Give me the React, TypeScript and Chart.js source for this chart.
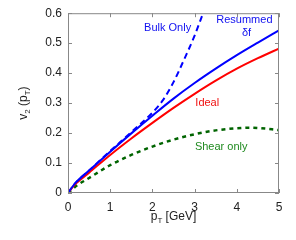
import React, { useEffect, useRef } from "react";
import { Chart, registerables } from "chart.js";

Chart.register(...registerables);

const resummedX = [0, 0.1, 0.2, 0.5, 1, 1.5, 2, 2.5, 3, 3.5, 4, 4.5, 5];
const resummedY = [0, 0.02, 0.037, 0.075, 0.138, 0.199, 0.258, 0.315, 0.367, 0.415, 0.46, 0.502, 0.543];

const idealX = [0, 0.1, 0.2, 0.5, 1, 1.5, 2, 2.5, 3, 3.5, 4, 4.5, 5];
const idealY = [0, 0.018, 0.033, 0.068, 0.127, 0.182, 0.234, 0.284, 0.331, 0.375, 0.415, 0.45, 0.482];

const bulkX = [0, 0.1, 0.2, 0.5, 1, 1.5, 2, 2.25, 2.5, 2.75, 3, 3.2];
const bulkY = [0, 0.02, 0.037, 0.075, 0.14, 0.203, 0.268, 0.31, 0.37, 0.445, 0.525, 0.6];

const shearX = [0, 0.1, 0.2, 0.5, 1, 1.5, 2, 2.5, 3, 3.5, 4, 4.3, 4.5, 5];
const shearY = [0, 0.012, 0.024, 0.05, 0.093, 0.127, 0.155, 0.178, 0.196, 0.209, 0.216, 0.218, 0.217, 0.21];

const xTicks = [0, 1, 2, 3, 4, 5];
const yTicks = [0, 0.1, 0.2, 0.3, 0.4, 0.5, 0.6];

const labels = [
  { text: "Bulk Only", x: 2.36, y: 0.55, color: "#1010f0" },
  { text: "Resummed", x: 4.18, y: 0.577, color: "#1010f0" },
  { text: "δf", x: 4.23, y: 0.535, color: "#1010f0" },
  { text: "Ideal", x: 3.3, y: 0.3, color: "#f01010" },
  { text: "Shear only", x: 3.63, y: 0.155, color: "#1f8a1f" },
];

const FONT = "'Liberation Sans', Arial, Helvetica, sans-serif";

const pts = (xs: number[], ys: number[]) => xs.map((x, i) => ({ x, y: ys[i] }));

const decorPlugin = {
  id: "decor",
  afterDraw(chart: any) {
    const ctx = chart.ctx as CanvasRenderingContext2D;
    const { left, right, top, bottom } = chart.chartArea;
    const xs = chart.scales.x;
    const ys = chart.scales.y;
    ctx.save();
    ctx.strokeStyle = "#888";
    ctx.lineWidth = 1;
    ctx.strokeRect(left + 0.5, top + 0.5, right - left - 1, bottom - top - 1);
    ctx.beginPath();
    const tl = 4;
    xTicks.forEach((v) => {
      const px = Math.round(xs.getPixelForValue(v)) + 0.5;
      ctx.moveTo(px, bottom);
      ctx.lineTo(px, bottom - tl);
      ctx.moveTo(px, top);
      ctx.lineTo(px, top + tl);
    });
    yTicks.forEach((v) => {
      const py = Math.round(ys.getPixelForValue(v)) + 0.5;
      ctx.moveTo(left, py);
      ctx.lineTo(left + tl, py);
      ctx.moveTo(right, py);
      ctx.lineTo(right - tl, py);
    });
    ctx.stroke();

    ctx.font = `11px ${FONT}`;
    ctx.textAlign = "center";
    ctx.textBaseline = "middle";
    labels.forEach((l) => {
      ctx.fillStyle = l.color;
      ctx.fillText(l.text, xs.getPixelForValue(l.x), ys.getPixelForValue(l.y));
    });

    const drawSub = (parts: { t: string; sub?: boolean }[], cx: number, cy: number) => {
      const big = `12px ${FONT}`;
      const small = `8px ${FONT}`;
      let w = 0;
      parts.forEach((p) => {
        ctx.font = p.sub ? small : big;
        w += ctx.measureText(p.t).width;
      });
      let x = cx - w / 2;
      ctx.textAlign = "left";
      ctx.textBaseline = "alphabetic";
      parts.forEach((p) => {
        ctx.font = p.sub ? small : big;
        ctx.fillText(p.t, x, p.sub ? cy + 3 : cy);
        x += ctx.measureText(p.t).width;
      });
    };
    ctx.fillStyle = "#222";
    drawSub([{ t: "p" }, { t: "T", sub: true }, { t: " [GeV]" }], (left + right) / 2, 220);
    ctx.translate(27, (top + bottom) / 2);
    ctx.rotate(-Math.PI / 2);
    drawSub([{ t: "v" }, { t: "2", sub: true }, { t: " (p" }, { t: "T", sub: true }, { t: ")" }], 0, 0);
    ctx.restore();
  },
};

export default function App() {
  const ref = useRef<HTMLCanvasElement>(null);
  useEffect(() => {
    if (!ref.current) return;
    const common = { pointRadius: 0, borderWidth: 2, cubicInterpolationMode: "monotone" as const, fill: false };
    const chart = new Chart(ref.current, {
      type: "line",
      data: {
        datasets: [
          { ...common, label: "Resummed δf", data: pts(resummedX, resummedY), borderColor: "#0000ff" },
          { ...common, label: "Ideal", data: pts(idealX, idealY), borderColor: "#ff0000" },
          { ...common, label: "Bulk Only", data: pts(bulkX, bulkY), borderColor: "#0000ff", borderDash: [6, 4] },
          { ...common, label: "Shear only", data: pts(shearX, shearY), borderColor: "#006400", borderDash: [4, 4], borderWidth: 2.5 },
        ],
      },
      options: {
        animation: false,
        responsive: false,
        devicePixelRatio: 1,
        layout: { padding: { top: 13, right: 17, left: 0, bottom: 0 } },
        plugins: { legend: { display: false }, tooltip: { enabled: false } },
        scales: {
          x: {
            type: "linear",
            min: 0,
            max: 5,
            grid: { display: false, drawTicks: false },
            border: { display: false },
            afterBuildTicks: (s: any) => {
              s.ticks = xTicks.map((v) => ({ value: v }));
            },
            afterFit: (s: any) => {
              s.height = 47;
            },
            ticks: { color: "#222", font: { family: FONT, size: 12 }, padding: 7, maxRotation: 0 },
          },
          y: {
            type: "linear",
            min: 0,
            max: 0.6,
            grid: { display: false, drawTicks: false },
            border: { display: false },
            afterBuildTicks: (s: any) => {
              s.ticks = yTicks.map((v) => ({ value: v }));
            },
            afterFit: (s: any) => {
              s.width = 68;
            },
            ticks: {
              color: "#222",
              font: { family: FONT, size: 12 },
              padding: 6,
              callback: (v: any) => (v === 0 ? "0" : Number(v).toFixed(1)),
            },
          },
        },
      },
      plugins: [decorPlugin],
    });
    return () => chart.destroy();
  }, []);
  return (
    <div style={{ position: "fixed", left: 0, top: 0, width: 296, height: 240, background: "#fff" }}>
      <canvas ref={ref} width={296} height={240} />
    </div>
  );
}
